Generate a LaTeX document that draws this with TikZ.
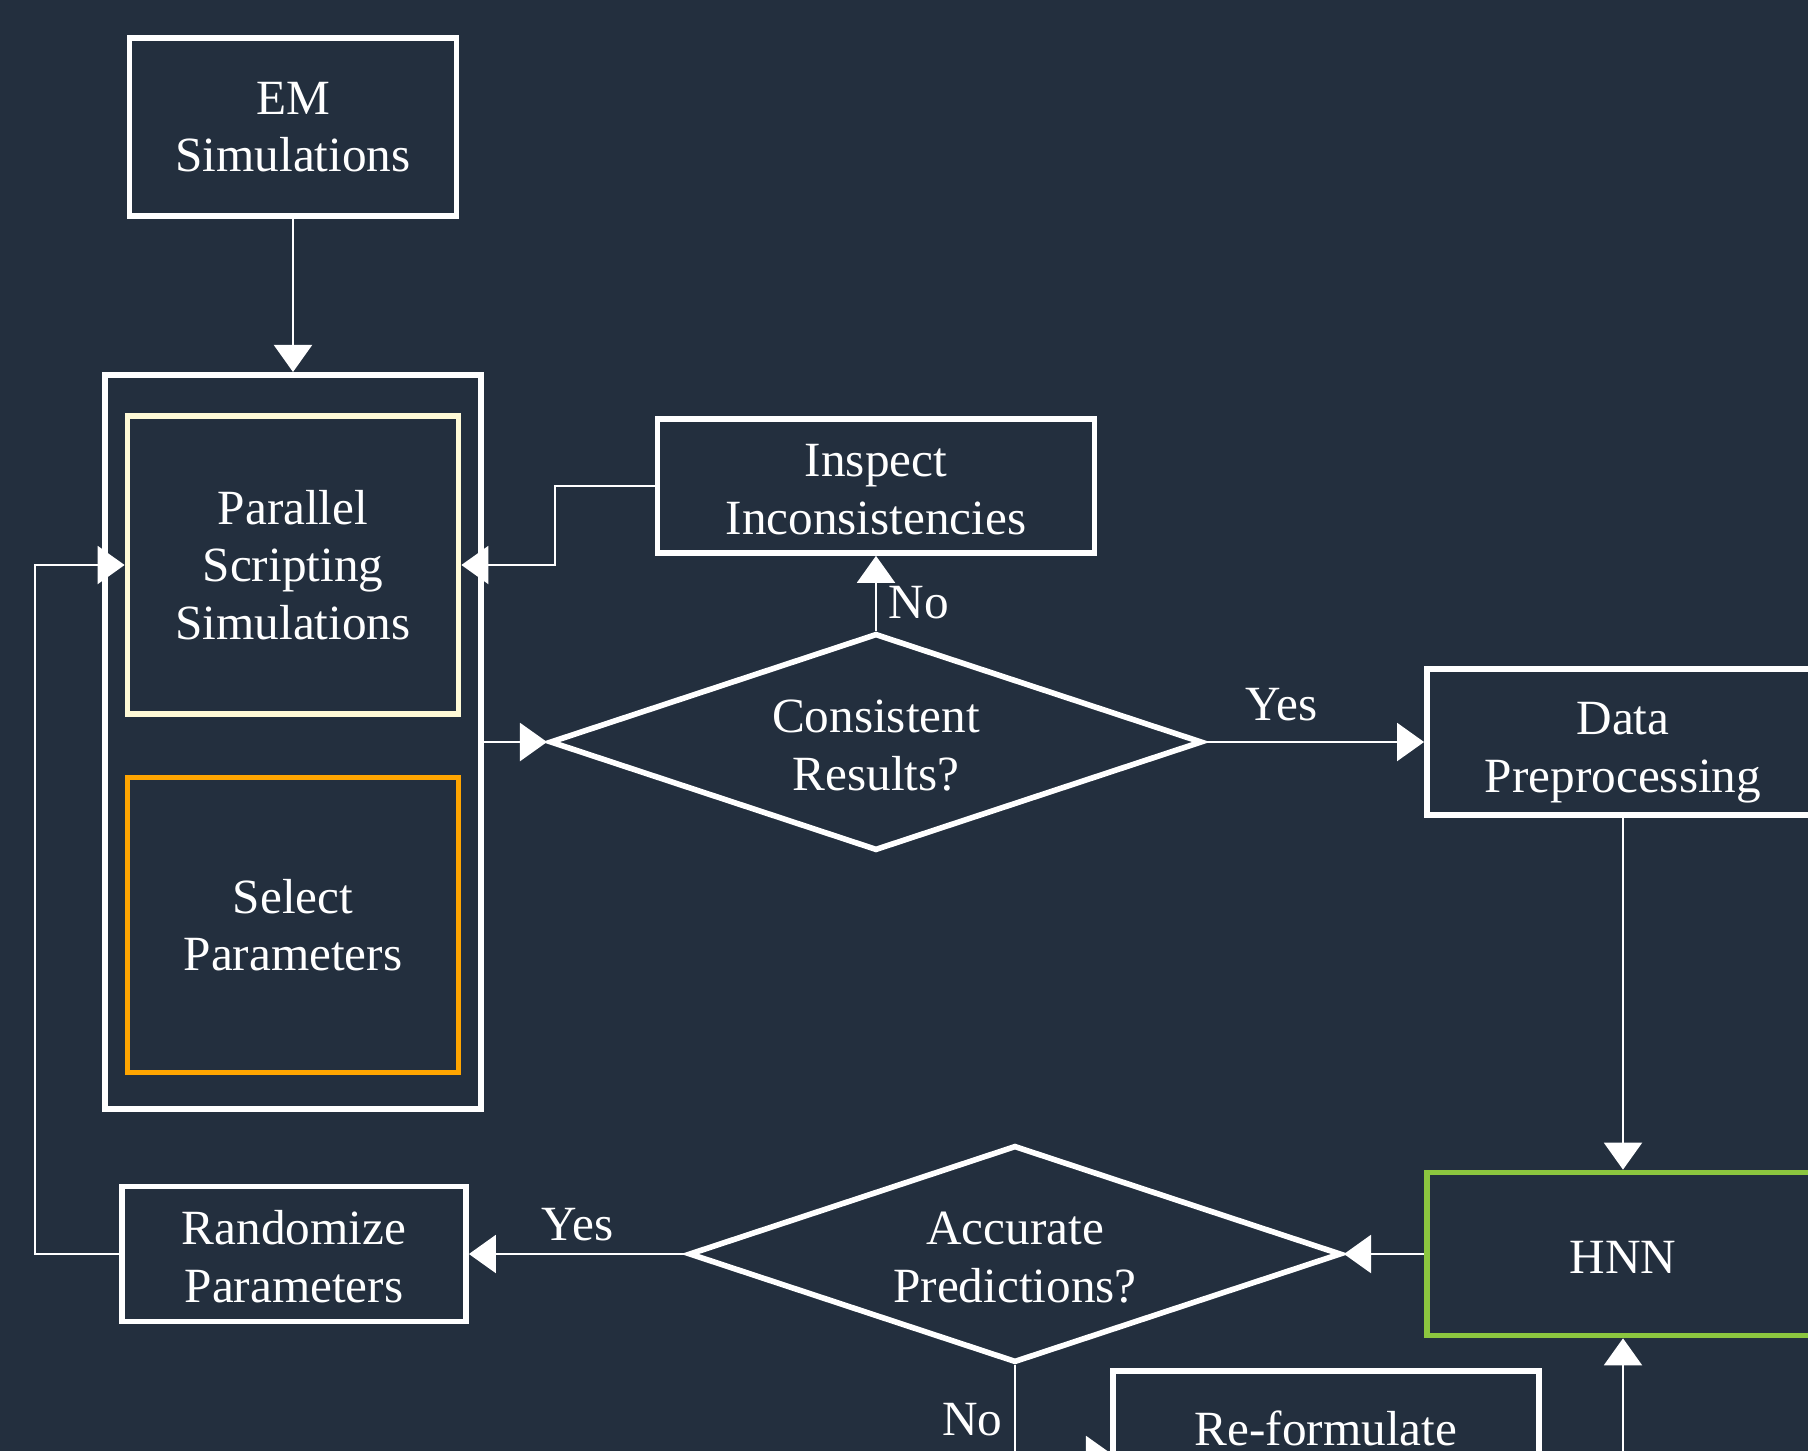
\documentclass[tikz,border=0pt]{standalone}
\usepackage{fontspec}
\setmainfont{Liberation Serif}
\usetikzlibrary{shapes.geometric,arrows.meta}
\definecolor{bgdark}{RGB}{35,47,62}
\definecolor{cream}{RGB}{255,250,215}
\definecolor{orng}{RGB}{255,165,0}
\definecolor{lgreen}{RGB}{140,198,63}

\begin{document}
\begin{tikzpicture}[x=0.01cm,y=-0.01cm]
  \tikzset{
    blk/.style={draw=white,line width=1.6pt,text=white,align=center,inner sep=0pt,
      font=\fontsize{14}{16.4}\selectfont},
    low/.style={text height=27.7pt},
    dec/.style={blk,low,diamond,aspect=3,minimum width=6.52cm,minimum height=2.17cm},
    conn/.style={draw=white,line width=0.6pt},
    arr/.style={conn,-{Triangle[width=0.38cm,length=0.27cm]}},
    lbl/.style={text=white,font=\fontsize{14}{16.4}\selectfont}}
  \useasboundingbox(0,0) rectangle (1808,1451);
  \fill[bgdark](0,0) rectangle (1808,1451);
  \clip(0,0) rectangle (1808,1451);

      \node[blk,minimum width=3.27cm,minimum height=1.78cm](em) at (293,127){EM\\Simulations};
      \node[blk,minimum width=3.76cm,minimum height=7.34cm](box) at (293,742){};
        \node[blk,draw=cream,minimum width=3.31cm,minimum height=2.98cm](par) at (293,565){Parallel\\Scripting\\Simulations};
        \node[blk,draw=orng,minimum width=3.31cm,minimum height=2.95cm](sel) at (293,925){Select\\Parameters};
      \node[blk,low,minimum width=4.37cm,minimum height=1.34cm](insp) at (876,486){Inspect\\Inconsistencies};
      \node[dec](cons) at (876,742){Consistent\\Results?};
      \node[blk,text height=31.5pt,minimum width=3.92cm,minimum height=1.46cm](data) at (1623,742){Data\\Preprocessing};
      \node[blk,text height=11.3pt,draw=lgreen,minimum width=3.92cm,minimum height=1.63cm](hnn) at (1623,1254){HNN};
      \node[dec](acc) at (1015,1254){Accurate\\Predictions?};
      \node[blk,low,minimum width=3.44cm,minimum height=1.35cm](rand) at (294,1254){Randomize\\Parameters};
      \node[blk,minimum width=4.26cm,minimum height=1.14cm](ref) at (1326,1428){Re-formulate};
      \coordinate(rin) at (1113,1455);
      \coordinate(hin) at (1623,1480);

  \draw[arr](em.south)--(box.north);
  \draw[arr](insp.west)-- ++(-100,0)|-(par.east);
  \draw[arr](box.east)--(cons.west);
  \draw[arr](cons.north)--(insp.south)node[lbl,right,pos=0.38]{No};
  \draw[arr](cons.east)--(data.west)node[lbl,above,pos=0.35,yshift=0.08cm]{Yes};
  \draw[arr](data.south)--(hnn.north);
  \draw[arr](hnn.west)--(acc.east);
  \draw[arr](acc.west)--(rand.east)node[lbl,above,pos=0.5]{Yes};
  \draw[arr](rand.west)-- ++(-84,0)|-(par.west);
  \draw[arr](acc.south)--(acc.south|-rin)node[lbl,left,pos=0.6]{No}--(rin);
  \draw[arr](hin)--(hnn.south);

\end{tikzpicture}
\end{document}
